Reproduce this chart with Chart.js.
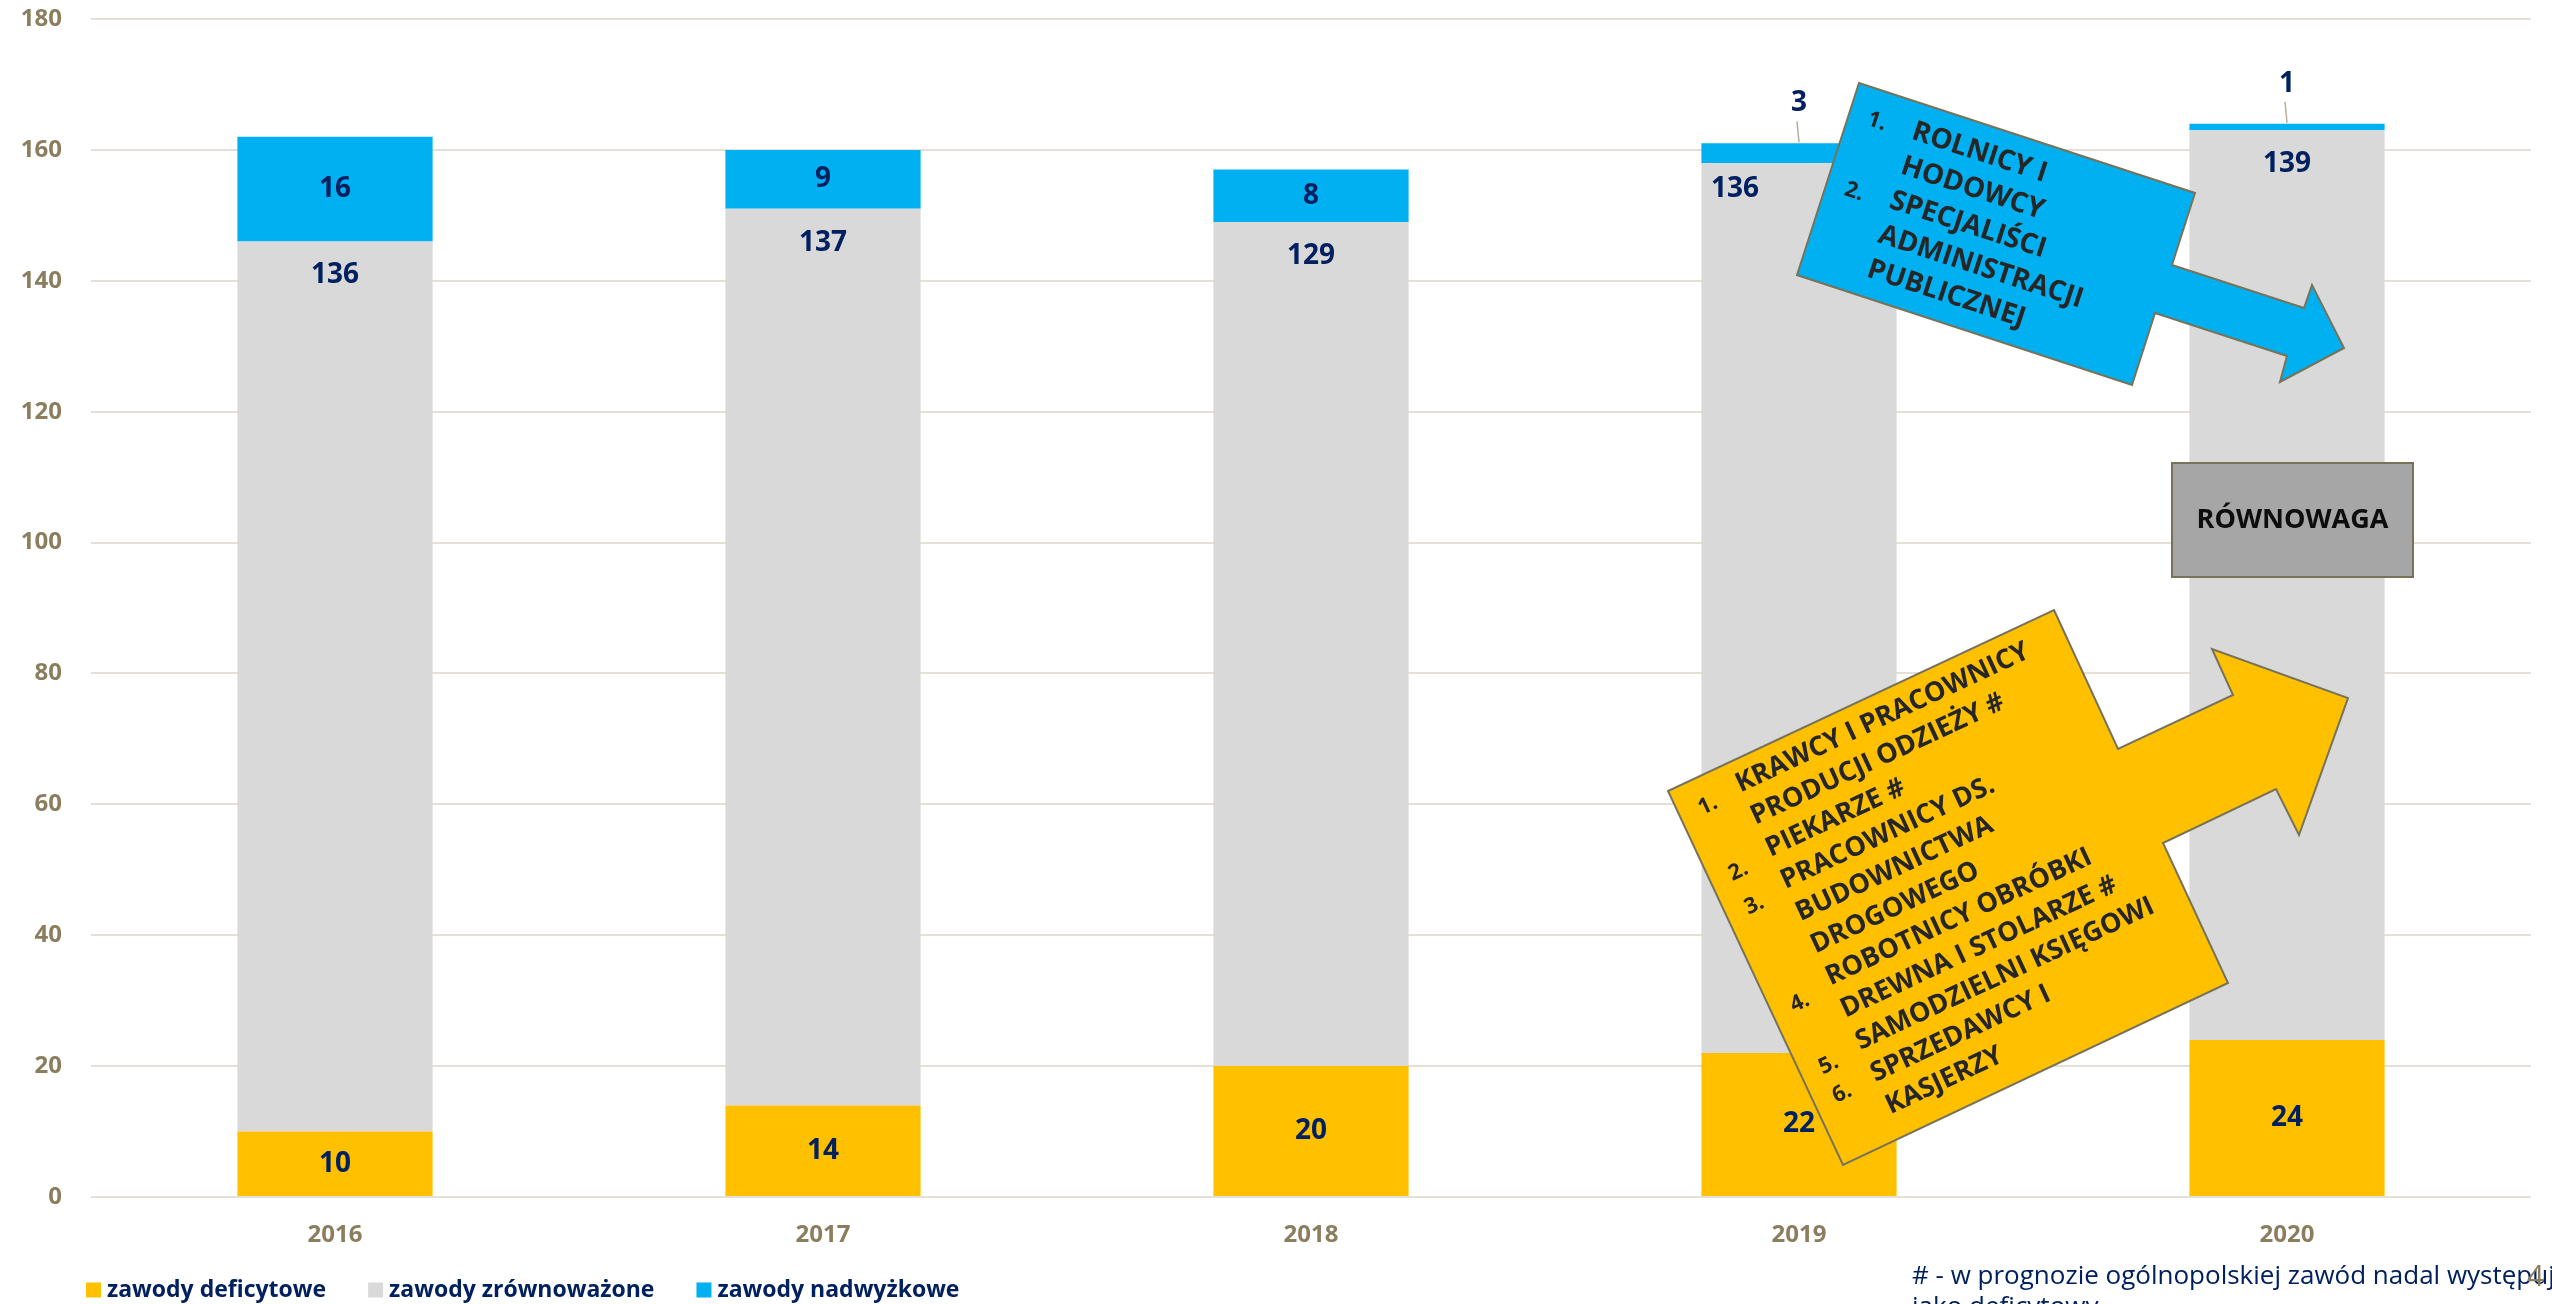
<!DOCTYPE html>
<html><head><meta charset="utf-8">
<script src="https://cdn.jsdelivr.net/npm/chart.js@4.4.0/dist/chart.umd.min.js"></script>
<style>html,body{margin:0;padding:0;background:#fff;overflow:hidden}#wrap{width:2552px;height:1304px;position:relative}</style>
</head><body><div id="wrap"><canvas id="c" width="2552" height="1304"></canvas></div>
<script>
// ---- data ----
const categories = ['2016', '2017', '2018', '2019', '2020'];
const deficytowe = [10, 14, 20, 22, 24];
const zrownowazone = [136, 137, 129, 136, 139];
const nadwyzkowe = [16, 9, 8, 3, 1];
const seriesNames = ['zawody deficytowe', 'zawody zrównoważone', 'zawody nadwyżkowe'];
const yMin = 0, yMax = 180, yStep = 20;

const blueLines = ['ROLNICY I', 'HODOWCY', 'SPECJALIŚCI', 'ADMINISTRACJI', 'PUBLICZNEJ'];
const yellowLines = ['KRAWCY I PRACOWNICY', 'PRODUCJI ODZIEŻY #', 'PIEKARZE #', 'PRACOWNICY DS.', 'BUDOWNICTWA',
  'DROGOWEGO', 'ROBOTNICY OBRÓBKI', 'DREWNA I STOLARZE #', 'SAMODZIELNI KSIĘGOWI', 'SPRZEDAWCY I', 'KASJERZY'];
const balanceText = 'RÓWNOWAGA';
const footnoteLines = ['# - w prognozie ogólnopolskiej zawód nadal występuje', 'jako deficytowy'];
const pageNumber = '4';

// ---- styles ----
const NAVY = '#002060', TAN = '#8B7E5E', GRID = '#E4E0D6';
const COLORS = ['#FFC000', '#D9D9D9', '#00B0F0'];
const FONT = '"Open Sans", "DejaVu Sans", sans-serif';
const grayLabelShift = { 3: { dx: -64, dy: -8 } };

// annotation geometry (pixels)
const blueArrow = { pts: [[1859,83],[2195,193],[2172,265],[2304,308],[2312,285],[2344,348],[2280,382],[2287,356],[2155,313],[2132,385],[1797,275]],
  origin: [1859, 83], angle: 18, textX: 66, base0: 37, step: 36.2, size: 28, nums: [['1.', 29, 31], ['2.', 29, 105]] };
const yellowArrow = { pts: [[2054,610],[2118,749],[2233,695],[2212,649],[2348,698],[2299,835],[2276,789],[2163,843],[2228,983],[1843,1165],[1668,791]],
  origin: [1668, 791], angle: -25, textX: 65, base0: 32, step: 35.5, size: 27,
  nums: [['1.', 30, 30], ['2.', 30, 102.5], ['3.', 30, 140], ['4.', 30, 247.5], ['5.', 30, 316], ['6.', 30, 347.6]] };
const balanceBox = { x: 2172, y: 463, w: 241, h: 114 };

function poly(ctx, pts, fill) {
  ctx.beginPath();
  pts.forEach((p, i) => i ? ctx.lineTo(p[0], p[1]) : ctx.moveTo(p[0], p[1]));
  ctx.closePath();
  ctx.fillStyle = fill; ctx.fill();
  ctx.lineWidth = 2; ctx.strokeStyle = '#77735A'; ctx.stroke();
}
function arrowText(ctx, a, lines) {
  ctx.save();
  ctx.translate(a.origin[0], a.origin[1]);
  ctx.rotate(a.angle * Math.PI / 180);
  ctx.fillStyle = '#262626';
  ctx.textAlign = 'left'; ctx.textBaseline = 'alphabetic';
  ctx.font = 'bold ' + a.size + 'px ' + FONT;
  lines.forEach((t, i) => ctx.fillText(t, a.textX, a.base0 + a.step * i));
  ctx.font = 'bold 22px ' + FONT;
  ctx.textAlign = 'center'; ctx.textBaseline = 'middle';
  a.nums.forEach(n => ctx.fillText(n[0], n[1], n[2]));
  ctx.restore();
}

const labelPlugin = {
  id: 'segLabels',
  afterDatasetsDraw(chart) {
    const ctx = chart.ctx;
    ctx.save();
    ctx.font = 'bold 28px ' + FONT;
    ctx.fillStyle = NAVY;
    ctx.textAlign = 'center';
    ctx.textBaseline = 'middle';
    chart.data.datasets.forEach((ds, di) => {
      const meta = chart.getDatasetMeta(di);
      meta.data.forEach((el, i) => {
        const v = ds.data[i];
        const top = Math.min(el.y, el.base), bot = Math.max(el.y, el.base);
        let x = el.x, y;
        if (di === 1) {
          const s = grayLabelShift[i] || { dx: 0, dy: 0 };
          x += s.dx; y = top + 34 + s.dy;
        } else if (v < 5) {
          y = top - 40;
          ctx.save();
          ctx.strokeStyle = '#B5AE98'; ctx.lineWidth = 1.5;
          ctx.beginPath(); ctx.moveTo(x, top - 1); ctx.lineTo(x - 2, top - 22); ctx.stroke();
          ctx.restore();
        } else {
          y = (top + bot) / 2;
        }
        ctx.fillText(String(v), x, y);
      });
    });
    ctx.restore();
  }
};

const annotationPlugin = {
  id: 'annotations',
  afterDatasetsDraw(chart) {
    const ctx = chart.ctx;
    ctx.save();
    poly(ctx, blueArrow.pts, '#00B0F0');
    arrowText(ctx, blueArrow, blueLines);
    ctx.fillStyle = '#A6A6A6';
    ctx.fillRect(balanceBox.x, balanceBox.y, balanceBox.w, balanceBox.h);
    ctx.lineWidth = 2; ctx.strokeStyle = '#77735A';
    ctx.strokeRect(balanceBox.x, balanceBox.y, balanceBox.w, balanceBox.h);
    ctx.fillStyle = '#0D0D0D';
    ctx.font = 'bold 27px ' + FONT;
    ctx.textAlign = 'center'; ctx.textBaseline = 'middle';
    ctx.fillText(balanceText, balanceBox.x + balanceBox.w / 2, balanceBox.y + balanceBox.h / 2);
    poly(ctx, yellowArrow.pts, '#FFC000');
    arrowText(ctx, yellowArrow, yellowLines);
    ctx.restore();
  },
  afterDraw(chart) {
    const ctx = chart.ctx;
    ctx.save();
    // legend built from the chart's datasets
    ctx.font = 'bold 23px ' + FONT;
    ctx.textAlign = 'left'; ctx.textBaseline = 'middle';
    let lx = 86; const ly = 1290;
    chart.data.datasets.forEach(ds => {
      ctx.fillStyle = ds.backgroundColor;
      ctx.fillRect(lx, ly - 7.5, 15, 15);
      ctx.fillStyle = NAVY;
      ctx.fillText(ds.label, lx + 21, ly);
      lx += 21 + ctx.measureText(ds.label).width + 42;
    });
    // footnote + page number
    ctx.fillStyle = NAVY;
    ctx.font = '26px ' + FONT;
    ctx.textBaseline = 'alphabetic';
    footnoteLines.forEach((t, i) => ctx.fillText(t, 1912, 1284 + 31 * i));
    ctx.fillStyle = TAN;
    ctx.font = '30px ' + FONT;
    ctx.fillText(pageNumber, 2527, 1286);
    ctx.restore();
  }
};

const tickFont = { family: FONT, size: 24, weight: 'bold' };
new Chart(document.getElementById('c'), {
  type: 'bar',
  data: {
    labels: categories,
    datasets: [
      { label: seriesNames[0], data: deficytowe, backgroundColor: COLORS[0] },
      { label: seriesNames[1], data: zrownowazone, backgroundColor: COLORS[1] },
      { label: seriesNames[2], data: nadwyzkowe, backgroundColor: COLORS[2] }
    ]
  },
  options: {
    responsive: false,
    animation: false,
    datasets: { bar: { barPercentage: 0.4, categoryPercentage: 1.0, borderWidth: 0 } },
    layout: { padding: { left: 0, right: 21, top: 19, bottom: 54.6 } },
    plugins: {
      legend: { display: false },
      tooltip: { enabled: false }
    },
    scales: {
      x: {
        stacked: true,
        grid: { display: false, drawTicks: false },
        border: { display: false },
        ticks: { color: TAN, font: tickFont, padding: 23.6 },
        afterFit(s) { s.height = 52.4; s.paddingLeft = 0; s.paddingRight = 0; s.paddingTop = 0; s.paddingBottom = 0; }
      },
      y: {
        stacked: true, min: yMin, max: yMax,
        ticks: { stepSize: yStep, color: TAN, font: tickFont, padding: 29 },
        grid: { color: GRID, lineWidth: 2, drawTicks: false },
        border: { display: false },
        afterFit(s) { s.width = 91; s.paddingTop = 0; s.paddingBottom = 0; s.paddingLeft = 0; s.paddingRight = 0; }
      }
    }
  },
  plugins: [labelPlugin, annotationPlugin]
});
</script></body></html>
